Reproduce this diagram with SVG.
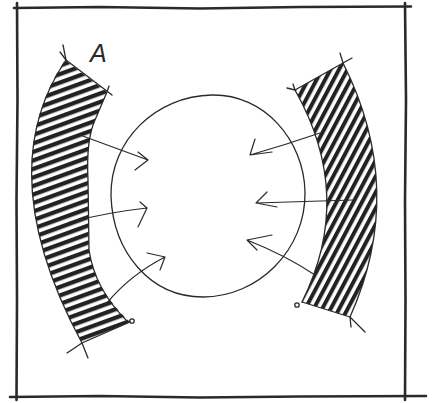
<svg xmlns="http://www.w3.org/2000/svg" width="438" height="403" viewBox="0 0 438 403">
<style>
.ln{fill:none;stroke:#2a2a2a;stroke-linecap:round;stroke-linejoin:round}
.frame{stroke-width:2.6}
.edge{stroke-width:1.3}
.arr{stroke-width:1.2}
.lbl{font-family:"Liberation Sans",Arial,sans-serif;font-size:25px;font-style:italic;fill:#2a2a2a}
</style>
<defs>
<pattern id="hatchL" width="8" height="8" patternUnits="userSpaceOnUse" patternTransform="rotate(-20)">
<rect x="0" y="0" width="8" height="4.3" fill="#222222"/>
</pattern>
<pattern id="hatchR" width="7.5" height="7.5" patternUnits="userSpaceOnUse" patternTransform="rotate(-62)">
<rect x="0" y="0" width="7.5" height="4" fill="#222222"/>
</pattern>
</defs>
<rect width="438" height="403" fill="#ffffff"/>
<g id="frame">
<path class="ln frame" d="M14,8 L100,7 L200,8.5 L300,7 L411,6.5"/>
<path class="ln frame" d="M17,3 L17.5,100 L16.5,200 L17,300 L16.5,400"/>
<path class="ln frame" d="M405,3 L406,100 L405,200 L405.5,300 L405,400"/>
<path class="ln frame" d="M10,397 L100,396 L200,397.5 L300,396.5 L426,396"/>
</g>
<g id="room">
<path class="ln edge" d="M212,95 C264,94 304,140 305,192 C306,250 258,297 203,297 C150,297 113,252 111,196 C110,140 156,96 212,95 Z"/>
</g>
<g id="band-left">
<path d="M65,60 Q-10,172 82,343 L130,322 Q95,290 89,250 L88,180 Q86,140 95,120 L107,92 Z" fill="url(#hatchL)"/>
<path class="ln edge" d="M63,45 L66,60 Q-10,172 82,343 L88,358"/>
<path class="ln edge" d="M60,52 L66,60 L112,95"/>
<path class="ln edge" d="M109,86 L107,92 L95,120 Q86,140 88,180 L89,250 Q95,290 128,322"/>
<path class="ln edge" d="M67,353 L82,343 L130,322"/>
<circle class="ln edge" cx="132" cy="321" r="2.2"/>
</g>
<g id="band-right">
<path d="M295,90 L343,63 Q407,190 350,317 L302,302 Q355,196 295,90 Z" fill="url(#hatchR)"/>
<path class="ln edge" d="M287,88 L295,90 L343,63 L352,58"/>
<path class="ln edge" d="M340,53 L343,63 Q407,190 350,317 L351,327"/>
<path class="ln edge" d="M293,84 L295,90 Q355,196 302,302"/>
<path class="ln edge" d="M302,302 L350,317 L365,332"/>
<circle class="ln edge" cx="297" cy="305" r="2.2"/>
</g>
<g id="label">
<text class="lbl" x="90" y="62">A</text>
</g>
<g id="connectors">
<path class="ln arr" d="M80,135 L148,160 M138,152 L148,160 L135,170"/>
<path class="ln arr" d="M70,222 Q110,212 147,208 M140,202 L147,208 L138,227"/>
<path class="ln arr" d="M107,303 Q130,275 165,257 M147,253 L165,257 L160,270"/>
<path class="ln arr" d="M320,133 Q285,145 250,155 M255,139 L250,155 L272,152"/>
<path class="ln arr" d="M353,200 L256,203 M267,192 L256,203 L277,207"/>
<path class="ln arr" d="M315,275 Q285,255 247,240 M272,235 L247,240 L257,250"/>
</g>
</svg>
